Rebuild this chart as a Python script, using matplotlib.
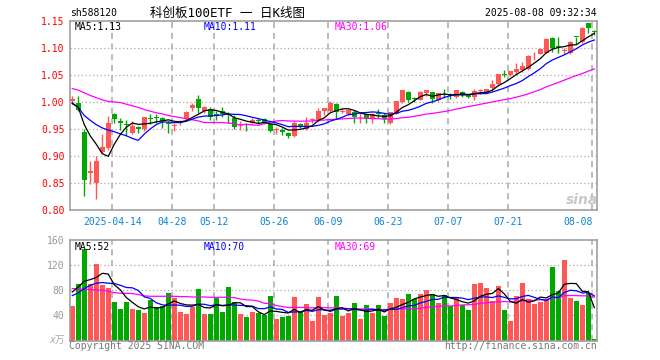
import numpy as np
import matplotlib
matplotlib.use('Agg')
import matplotlib.pyplot as plt

# ---------------- data ----------------
opens = [1.002, 0.998, 0.945, 0.868, 0.850, 0.907, 0.915, 0.977, 0.965, 0.960,
         0.943, 0.953, 0.950, 0.970, 0.972, 0.970, 0.962, 0.956, 0.961, 0.968,
         0.989, 1.005, 0.983, 0.987, 0.977, 0.983, 0.978, 0.971, 0.958, 0.960,
         0.962, 0.966, 0.968, 0.959, 0.949, 0.948, 0.942, 0.937, 0.959, 0.950,
         0.966, 0.967, 0.984, 0.983, 0.997, 0.981, 0.977, 0.982, 0.975, 0.978,
         0.968, 0.979, 0.975, 0.962, 0.978, 1.000, 1.019, 1.007, 1.004, 1.016,
         1.018, 1.003, 1.015, 1.013, 1.010, 1.018, 1.013, 1.010, 1.020, 1.016,
         1.025, 1.033, 1.051, 1.050, 1.056, 1.060, 1.061, 1.088, 1.089, 1.091,
         1.118, 1.102, 1.095, 1.090, 1.121, 1.112, 1.146, 1.131]
highs = [1.012, 1.011, 0.950, 0.891, 0.900, 0.941, 0.974, 0.980, 0.970, 0.966,
         0.964, 0.956, 0.973, 0.977, 0.978, 0.972, 0.964, 0.961, 0.966, 0.983,
         0.998, 1.013, 0.993, 0.990, 0.983, 0.990, 0.982, 0.976, 0.964, 0.962,
         0.971, 0.970, 0.971, 0.962, 0.954, 0.951, 0.945, 0.964, 0.961, 0.973,
         0.971, 0.988, 0.988, 1.002, 0.999, 0.989, 0.987, 0.985, 0.980, 0.980,
         0.979, 0.987, 0.979, 0.982, 1.002, 1.023, 1.021, 1.010, 1.021, 1.023,
         1.018, 1.017, 1.025, 1.016, 1.022, 1.021, 1.014, 1.024, 1.024, 1.025,
         1.041, 1.052, 1.059, 1.058, 1.073, 1.074, 1.087, 1.093, 1.100, 1.118,
         1.120, 1.120, 1.100, 1.113, 1.121, 1.138, 1.147, 1.134]
lows = [0.997, 0.984, 0.826, 0.848, 0.820, 0.905, 0.912, 0.962, 0.949, 0.938,
        0.941, 0.942, 0.946, 0.959, 0.962, 0.952, 0.942, 0.947, 0.958, 0.964,
        0.983, 0.980, 0.979, 0.967, 0.967, 0.973, 0.962, 0.950, 0.948, 0.946,
        0.960, 0.959, 0.959, 0.944, 0.940, 0.939, 0.934, 0.936, 0.951, 0.948,
        0.962, 0.963, 0.976, 0.982, 0.969, 0.979, 0.976, 0.962, 0.962, 0.962,
        0.962, 0.970, 0.962, 0.960, 0.977, 0.999, 1.000, 1.000, 1.004, 1.011,
        0.998, 1.001, 1.008, 1.005, 1.007, 1.010, 1.007, 1.003, 1.014, 1.016,
        1.020, 1.030, 1.047, 1.048, 1.052, 1.056, 1.059, 1.078, 1.088, 1.090,
        1.092, 1.090, 1.088, 1.088, 1.108, 1.110, 1.127, 1.124]
closes = [1.005, 0.986, 0.856, 0.872, 0.890, 0.917, 0.962, 0.968, 0.962, 0.957,
          0.956, 0.950, 0.972, 0.968, 0.970, 0.965, 0.960, 0.958, 0.963, 0.981,
          0.995, 0.989, 0.990, 0.973, 0.975, 0.977, 0.976, 0.953, 0.959, 0.958,
          0.967, 0.965, 0.961, 0.947, 0.950, 0.945, 0.937, 0.962, 0.953, 0.962,
          0.967, 0.984, 0.988, 0.999, 0.982, 0.983, 0.986, 0.972, 0.976, 0.968,
          0.978, 0.977, 0.968, 0.981, 1.001, 1.022, 1.003, 1.005, 1.018, 1.022,
          1.005, 1.016, 1.013, 1.011, 1.022, 1.013, 1.010, 1.021, 1.021, 1.024,
          1.033, 1.052, 1.050, 1.057, 1.062, 1.067, 1.085, 1.089, 1.098, 1.117,
          1.100, 1.101, 1.097, 1.112, 1.120, 1.137, 1.137, 1.129]
volumes = [54.4, 89.6, 145.6, 89.6, 122.1, 88.0, 83.2, 60.8, 49.6, 60.8,
           49.6, 48.0, 43.2, 64.5, 53.0, 55.0, 75.2, 67.0, 44.8, 41.6,
           52.8, 81.6, 41.6, 41.6, 67.2, 44.8, 84.8, 62.0, 41.6, 36.8,
           44.8, 43.2, 40.0, 70.4, 33.6, 36.8, 38.4, 68.8, 44.8, 57.6,
           30.4, 68.8, 40.0, 43.2, 70.4, 38.4, 43.2, 59.2, 33.6, 56.0,
           43.2, 56.0, 38.4, 59.2, 67.2, 65.6, 73.6, 65.6, 73.6, 80.0,
           73.6, 59.2, 72.0, 54.4, 67.2, 56.0, 48.0, 89.6, 91.2, 83.2,
           62.4, 86.4, 48.0, 30.4, 70.4, 91.2, 65.6, 57.6, 60.8, 64.0,
           116.8, 78.4, 128.0, 67.2, 62.4, 56.0, 75.2, 1.6]

# moving-average values for the first days (history before the window)
ma5_head = [0.998, 0.990, 0.958, 0.937]
ma10_head = [0.997, 0.990, 0.975, 0.966, 0.958, 0.952, 0.948, 0.945, 0.941]
ma30_head = [1.025, 1.022, 1.017, 1.012, 1.008, 1.004, 1.001, 1.000, 0.999, 0.996,
             0.993, 0.990, 0.986, 0.983, 0.980, 0.978, 0.975, 0.973, 0.971, 0.969,
             0.967, 0.965, 0.962, 0.962, 0.962, 0.962, 0.961, 0.960, 0.957]
vma5_head = [77.3, 85.3, 94.4, 97.0]
vma10_head = [71.5, 75.7, 82.7, 88.0, 91.2, 92.3, 91.2, 90.7, 88.0]
vma30_head = [82.7, 82.1, 81.6, 81.1, 80.5, 80.0, 78.4, 76.3, 75.2, 75.2,
              74.7, 73.1, 71.0, 70.4, 70.4, 70.4, 70.4, 70.4, 69.9, 69.9,
              69.3, 69.3, 69.3, 68.8, 68.8, 68.8, 68.8, 68.3, 66.1]

tick_index = [7, 17, 24, 34, 43, 53, 63, 73, 87]
tick_labels = ['2025-04-14', '04-28', '05-12', '05-26', '06-09', '06-23', '07-07', '07-21', '08-08']
price_ticks = [0.80, 0.85, 0.90, 0.95, 1.00, 1.05, 1.10, 1.15]
volume_ticks = [40, 80, 120, 160]
price_ma_last = ['1.13', '1.11', '1.06']
volume_ma_last = ['52', '70', '69']

# ---------------- helpers ----------------
def moving_avg(vals, n, head):
    vals = np.asarray(vals, float)
    out = np.full(len(vals), np.nan)
    out[:len(head)] = head
    for k in range(n - 1, len(vals)):
        out[k] = vals[k - n + 1:k + 1].mean()
    return out

RED = '#ff5656'
GREEN = '#00a800'
GRID = '#aaaaaa'
SPINE = '#a0a0a0'
MONO = ['DejaVu Sans Mono', 'Noto Sans CJK SC']

W, H = 660, 360
fig = plt.figure(figsize=(6.6, 3.6), dpi=100)
fig.patch.set_facecolor('white')

def fx(x):
    return x / W

def fy(y):
    return 1 - y / H

ax = fig.add_axes([fx(70), fy(210), (597 - 70) / W, (210 - 21) / H])
axv = fig.add_axes([fx(70), fy(340.5), (597 - 70) / W, (340.5 - 240) / H])

o = np.array(opens); c = np.array(closes); h = np.array(highs); l = np.array(lows)
v = np.array(volumes)
x = np.arange(len(o))
up = c >= o
cols = np.where(up, RED, GREEN)

xmin, xmax = -0.38, len(o) - 0.55
for a in (ax, axv):
    a.set_xlim(xmin, xmax)
    for s in a.spines.values():
        s.set_color(SPINE)
        s.set_linewidth(1.2)
    a.tick_params(length=0)
    for t in tick_index:
        a.axvline(t - 0.33, color=GRID, lw=1.1, ls=(0, (4, 3)), zorder=0)

# ---- price panel ----
ax.set_ylim(0.80, 1.15)
for yv in price_ticks[1:-1]:
    ax.axhline(yv, color=GRID, lw=0.9, ls=(0, (1, 2)), zorder=0)

ax.vlines(x, l, h, colors=cols, lw=1.0, zorder=2)
body_bottom = np.minimum(o, c)
body_h = np.maximum(np.abs(c - o), 0.0018)
ax.bar(x, body_h, bottom=body_bottom, width=0.78, color=cols, edgecolor='none', zorder=3)

ma5 = moving_avg(c, 5, ma5_head)
ma10 = moving_avg(c, 10, ma10_head)
ma30 = moving_avg(c, 30, ma30_head)
ax.plot(x, ma30, color='#ff00ff', lw=0.9, zorder=4)
ax.plot(x, ma10, color='#0000ff', lw=0.9, zorder=4)
ax.plot(x, ma5, color='black', lw=0.9, zorder=4)

ax.set_yticks(price_ticks)
ax.set_yticklabels(['%.2f' % t for t in price_ticks], color='red', family=MONO, fontsize=7)
ax.tick_params(axis='y', pad=4)
ax.set_xticks([t - 0.33 for t in tick_index])
ax.set_xticklabels(tick_labels, color='#0a84d8', family=MONO, fontsize=7)
ax.tick_params(axis='x', pad=5)
ax.get_xticklabels()[-1].set_horizontalalignment('right')

# ---- volume panel ----
axv.set_ylim(0, 160)
for yv in volume_ticks[:-1]:
    axv.axhline(yv, color=GRID, lw=0.9, ls=(0, (1, 2)), zorder=0)
axv.bar(x, v, width=0.82, color=cols, edgecolor='none', zorder=2)
vma5 = moving_avg(v, 5, vma5_head)
vma10 = moving_avg(v, 10, vma10_head)
vma30 = moving_avg(v, 30, vma30_head)
axv.plot(x, vma30, color='#ff00ff', lw=0.9, zorder=4)
axv.plot(x, vma10, color='#0000ff', lw=0.9, zorder=4)
axv.plot(x, vma5, color='black', lw=0.9, zorder=4)
axv.set_yticks(volume_ticks)
axv.set_yticklabels([str(t) for t in volume_ticks], color='#999999', family=MONO, fontsize=7)
axv.tick_params(axis='y', pad=4)
axv.set_xticks([])

# ---- texts ----
fig.text(fx(70), fy(13), 'sh588120', family=MONO, fontsize=7, color='black', ha='left', va='center')
fig.text(fx(227), fy(13), '科创板100ETF 一 日K线图', family=MONO, fontsize=9, color='black',
         ha='center', va='center')
fig.text(fx(597), fy(13), '2025-08-08 09:32:34', family=MONO, fontsize=7, color='black',
         ha='right', va='center')

ma_cols = ['black', '#0000ff', '#ff00ff']
ma_names = ['MA5', 'MA10', 'MA30']
ma_x = [75, 204, 335]
for nm, val, cl, xx in zip(ma_names, price_ma_last, ma_cols, ma_x):
    fig.text(fx(xx), fy(26.5), '%s:%s' % (nm, val), family=MONO, fontsize=7, color=cl,
             ha='left', va='center')
for nm, val, cl, xx in zip(ma_names, volume_ma_last, ma_cols, ma_x):
    fig.text(fx(xx), fy(246.5), '%s:%s' % (nm, val), family=MONO, fontsize=7, color=cl,
             ha='left', va='center')

fig.text(fx(65), fy(340), 'x万', family=MONO, fontsize=7, color='#aaaaaa', ha='right', va='center',
         style='italic')
fig.text(fx(69), fy(346), 'Copyright 2025 SINA.COM', family=MONO, fontsize=7, color='#777777',
         ha='left', va='center')
fig.text(fx(597), fy(346), 'http://finance.sina.com.cn', family=MONO, fontsize=7, color='#777777',
         ha='right', va='center')
fig.text(fx(582), fy(200), 'sina', family='DejaVu Sans', fontsize=10, color='#c8c8c8',
         ha='center', va='center', style='italic', fontweight='bold')

fig.savefig('out.png', dpi=100, facecolor='white')
